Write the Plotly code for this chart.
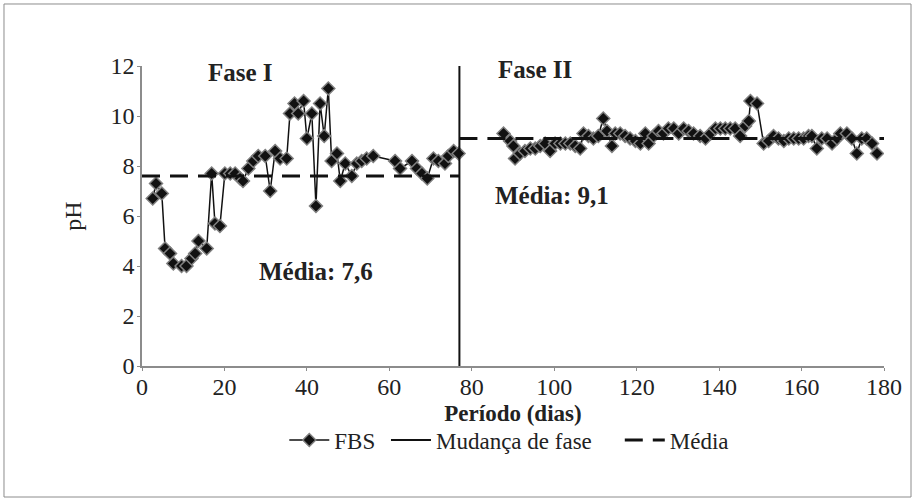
import plotly.graph_objects as go

# Phase I readings (day, pH)
dias_f1 = [2.6, 3.4, 4.8, 5.6, 6.8, 7.6, 9.6, 10.8, 12.0, 12.9, 13.7, 15.7, 16.9, 17.7, 18.9,
           20.1, 21.4, 22.6, 23.8, 24.5, 25.8, 27.0, 28.2, 29.9, 31.1, 32.3, 33.5, 35.1, 35.9,
           37.0, 37.9, 39.2, 40.0, 41.2, 42.2, 43.2, 44.2, 45.2, 46.0, 47.3, 48.1, 49.3, 50.9,
           52.1, 53.3, 54.5, 56.1, 61.4, 62.6, 65.5, 66.7, 67.9, 69.2, 70.7, 71.9, 73.5, 74.3,
           75.6, 76.8]
ph_f1 = [6.7, 7.3, 6.9, 4.7, 4.5, 4.1, 4.0, 4.0, 4.3, 4.5, 5.0, 4.7, 7.7, 5.7, 5.6,
         7.7, 7.7, 7.7, 7.5, 7.4, 7.9, 8.2, 8.4, 8.4, 7.0, 8.6, 8.3, 8.3, 10.1,
         10.5, 10.1, 10.6, 9.1, 10.1, 6.4, 10.5, 9.2, 11.1, 8.2, 8.5, 7.4, 8.1, 7.6,
         8.1, 8.2, 8.3, 8.4, 8.2, 7.9, 8.2, 7.9, 7.7, 7.5, 8.3, 8.2, 8.1, 8.4,
         8.6, 8.5]

# Phase II readings (day, pH)
dias_f2 = [87.7, 89.3, 90.1, 90.5, 91.7, 92.9, 94.2, 95.4, 96.6, 97.8, 99.0, 100.2, 101.5,
           102.7, 103.9, 105.1, 106.3, 107.1, 108.3, 109.5, 110.7, 111.9, 112.8, 114.0, 114.8,
           116.0, 117.2, 118.4, 119.7, 120.9, 122.1, 122.9, 124.1, 125.3, 126.5, 127.7, 129.0,
           130.2, 131.4, 132.6, 133.8, 135.4, 136.7, 137.9, 139.1, 140.3, 141.5, 142.7, 143.9,
           145.1, 146.3, 147.2, 147.6, 149.2, 150.8, 152.0, 153.2, 154.4, 155.7, 156.9, 158.1,
           159.3, 160.5, 161.7, 162.5, 163.7, 164.9, 166.2, 167.4, 168.6, 169.4, 171.0, 172.2,
           173.4, 174.6, 175.8, 177.1, 178.3]
ph_f2 = [9.3, 9.0, 8.8, 8.3, 8.5, 8.6, 8.7, 8.7, 8.8, 8.9, 8.6, 8.9, 8.9,
         8.9, 8.9, 8.8, 8.7, 9.3, 9.2, 9.1, 9.2, 9.9, 9.4, 8.8, 9.3,
         9.3, 9.2, 9.1, 9.0, 8.9, 9.3, 8.9, 9.2, 9.4, 9.3, 9.5, 9.5,
         9.3, 9.5, 9.4, 9.3, 9.2, 9.1, 9.3, 9.5, 9.5, 9.5, 9.5, 9.5,
         9.2, 9.6, 9.8, 10.6, 10.5, 8.9, 9.0, 9.2, 9.1, 9.0, 9.1, 9.1,
         9.1, 9.1, 9.2, 9.2, 8.7, 9.1, 9.1, 8.9, 9.1, 9.3, 9.3, 9.1,
         8.5, 9.1, 9.1, 8.9, 8.5]

mudanca_x = [77, 77]
mudanca_y = [0, 12]

media_x = [0, 77, None, 77, 180]
media_y = [7.6, 7.6, None, 9.1, 9.1]

x_ticks = [0, 20, 40, 60, 80, 100, 120, 140, 160, 180]
y_ticks = [0, 2, 4, 6, 8, 10, 12]

FONT = "Liberation Serif"
NB = "\u00a0"

fig = go.Figure()

marker = dict(symbol="diamond", size=10, color="#111111",
              line=dict(color="#808080", width=1.5))

fig.add_trace(go.Scatter(x=dias_f1, y=ph_f1, mode="lines+markers", name="FBS" + NB,
                         legendgroup="fbs", line=dict(color="#111111", width=1.5),
                         marker=marker))
fig.add_trace(go.Scatter(x=dias_f2, y=ph_f2, mode="lines+markers", name="FBS",
                         legendgroup="fbs", showlegend=False,
                         line=dict(color="#111111", width=1.5), marker=marker))
fig.add_trace(go.Scatter(x=mudanca_x, y=mudanca_y, mode="lines", name="Mudança de fase" + NB * 4,
                         line=dict(color="#111111", width=2)))
fig.add_trace(go.Scatter(x=media_x, y=media_y, mode="lines", name="Média",
                         line=dict(color="#111111", width=3, dash="18px,10px")))

annots = [
    dict(x=23.8, y=11.75, text="<b>Fase I</b>", size=25),
    dict(x=95.4, y=11.85, text="<b>Fase II</b>", size=25),
    dict(x=42.2, y=3.78, text="<b>Média: 7,6</b>", size=25),
    dict(x=99.5, y=6.83, text="<b>Média: 9,1</b>", size=25),
]
for a in annots:
    fig.add_annotation(x=a["x"], y=a["y"], xref="x", yref="y", text=a["text"],
                       showarrow=False, font=dict(family=FONT, size=a["size"], color="#222222"))

# outer chart frame
fig.add_shape(type="rect", xref="paper", yref="paper",
              x0=-0.186, x1=1.0364, y0=-0.4367, y1=1.2067,
              line=dict(color="#8c8c8c", width=1), fillcolor="rgba(0,0,0,0)", layer="below")

fig.update_layout(
    width=916, height=502,
    margin=dict(l=142, r=32, t=66, b=136),
    paper_bgcolor="white", plot_bgcolor="white",
    font=dict(family=FONT, size=23, color="#222222"),
    showlegend=True,
    legend=dict(orientation="h", x=0.495, xanchor="center", y=-0.175, yanchor="top",
                font=dict(family=FONT, size=23, color="#222222"),
                itemwidth=40, tracegroupgap=0, bgcolor="rgba(0,0,0,0)"),
    xaxis=dict(range=[0, 180], tickvals=x_ticks, ticks="outside", ticklen=3,
               tickcolor="#8c8c8c", showline=True, linecolor="#8c8c8c", linewidth=1.5,
               showgrid=False, zeroline=False, tickfont=dict(family=FONT, size=24),
               ticklabelstandoff=-5,
               title=dict(text="<b>Período (dias)</b>", font=dict(family=FONT, size=23), standoff=6)),
    yaxis=dict(range=[0, 12], tickvals=y_ticks, ticks="outside", ticklen=3,
               tickcolor="#8c8c8c", showline=True, linecolor="#8c8c8c", linewidth=1.5,
               showgrid=False, zeroline=False, tickfont=dict(family=FONT, size=24),
               ticklabelstandoff=-2,
               title=dict(text="pH", font=dict(family=FONT, size=24), standoff=22)),
)

fig.write_html("out.html")
